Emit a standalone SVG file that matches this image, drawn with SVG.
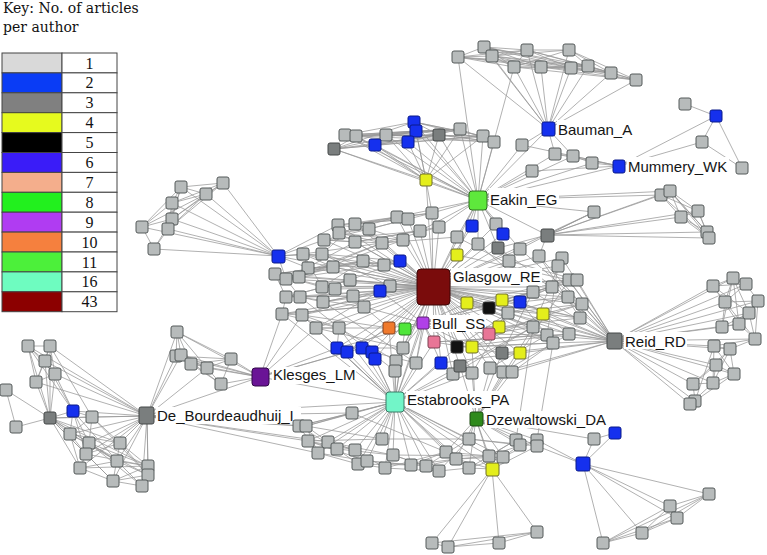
<svg xmlns="http://www.w3.org/2000/svg" width="767" height="555" viewBox="0 0 767 555">
<style>
.g{fill:#b7bbbb;stroke:#555a5a;stroke-width:1;rx:2px}
.bl{fill:#1530ee;stroke:#0b1a8a;stroke-width:1;rx:2px}
.dk{fill:#7a7e7e;stroke:#454848;stroke-width:1;rx:2px}
.yl{fill:#e4ee1c;stroke:#6e6e2a;stroke-width:1;rx:2px}
.bk{fill:#111;stroke:#333;stroke-width:1;rx:2px}
.pk{fill:#e87596;stroke:#7a4050;stroke-width:1;rx:2px}
.or{fill:#f07a2c;stroke:#804020;stroke-width:1;rx:2px}
.gn{fill:#4fe63a;stroke:#2a7a20;stroke-width:1;rx:2px}
.lb{font-family:"Liberation Sans",Arial,sans-serif;font-size:15px;fill:#151515}
.bg{fill:#fff}
.key{font-family:"DejaVu Serif","Liberation Serif",serif;font-size:14px;fill:#111}
.num{font-family:"Liberation Serif","DejaVu Serif",serif;font-size:16px;fill:#111;text-anchor:middle}
.cell{stroke:#444;stroke-width:1}
</style>
<g id="legend">
<text class="key" x="3" y="13">Key: No. of articles</text>
<text class="key" x="3" y="32">per author</text>
<rect class="cell" x="2" y="53" width="60" height="19.9" fill="#d9d9d9"/><rect class="cell" x="62" y="53" width="55" height="19.9" fill="#fff"/><text class="num" x="89.5" y="68.5">1</text>
<rect class="cell" x="2" y="72.9" width="60" height="19.9" fill="#0a3cf5"/><rect class="cell" x="62" y="72.9" width="55" height="19.9" fill="#fff"/><text class="num" x="89.5" y="88.4">2</text>
<rect class="cell" x="2" y="92.8" width="60" height="19.9" fill="#808080"/><rect class="cell" x="62" y="92.8" width="55" height="19.9" fill="#fff"/><text class="num" x="89.5" y="108.3">3</text>
<rect class="cell" x="2" y="112.7" width="60" height="19.9" fill="#e6fa1e"/><rect class="cell" x="62" y="112.7" width="55" height="19.9" fill="#fff"/><text class="num" x="89.5" y="128.2">4</text>
<rect class="cell" x="2" y="132.6" width="60" height="19.9" fill="#000"/><rect class="cell" x="62" y="132.6" width="55" height="19.9" fill="#fff"/><text class="num" x="89.5" y="148.1">5</text>
<rect class="cell" x="2" y="152.5" width="60" height="19.9" fill="#3a1cf8"/><rect class="cell" x="62" y="152.5" width="55" height="19.9" fill="#fff"/><text class="num" x="89.5" y="168">6</text>
<rect class="cell" x="2" y="172.4" width="60" height="19.9" fill="#f4ae8c"/><rect class="cell" x="62" y="172.4" width="55" height="19.9" fill="#fff"/><text class="num" x="89.5" y="187.9">7</text>
<rect class="cell" x="2" y="192.3" width="60" height="19.9" fill="#22f01e"/><rect class="cell" x="62" y="192.3" width="55" height="19.9" fill="#fff"/><text class="num" x="89.5" y="207.8">8</text>
<rect class="cell" x="2" y="212.2" width="60" height="19.9" fill="#b03cf2"/><rect class="cell" x="62" y="212.2" width="55" height="19.9" fill="#fff"/><text class="num" x="89.5" y="227.7">9</text>
<rect class="cell" x="2" y="232.1" width="60" height="19.9" fill="#f5803e"/><rect class="cell" x="62" y="232.1" width="55" height="19.9" fill="#fff"/><text class="num" x="89.5" y="247.6">10</text>
<rect class="cell" x="2" y="252" width="60" height="19.9" fill="#4cf03a"/><rect class="cell" x="62" y="252" width="55" height="19.9" fill="#fff"/><text class="num" x="89.5" y="267.5">11</text>
<rect class="cell" x="2" y="271.9" width="60" height="19.9" fill="#6efcc0"/><rect class="cell" x="62" y="271.9" width="55" height="19.9" fill="#fff"/><text class="num" x="89.5" y="287.4">16</text>
<rect class="cell" x="2" y="291.8" width="60" height="19.9" fill="#8c0000"/><rect class="cell" x="62" y="291.8" width="55" height="19.9" fill="#fff"/><text class="num" x="89.5" y="307.3">43</text>
</g>
<g id="connectors" fill="none" stroke="#979797" stroke-width="0.75">
<path d="M548 129L458 57M548 129L484 47M548 129L492 56M548 129L527 50M548 129L569 50M548 129L514 67M548 129L541 67M548 129L571 68M548 129L588 66M548 129L611 73M548 129L636 80M548 129L522 145M548 129L555 154M548 129L573 156M548 129L478 200"/>
<path d="M458 57L484 47L527 50L569 50L636 80L611 73L588 66L571 68L541 67L514 67L492 56L458 57L514 67L569 50L611 73L541 67L484 47L571 68L636 80L588 66L527 50L492 56L541 67L588 66L484 47L514 67L571 68L458 57L527 50L611 73L492 56L569 50L588 66L458 57L541 67L636 80L514 67L527 50L571 68L611 73L484 47L492 56L588 66"/>
<path d="M426 180L345 135M426 180L356 136M426 180L386 135M426 180L414 122M426 180L416 131M426 180L408 142M426 180L375 145M426 180L334 149M426 180L439 135M426 180L460 129M426 180L483 136M426 180L478 200M426 180L432 213M426 180L433 287"/>
<path d="M478 200L345 135M478 200L356 136M478 200L386 135M478 200L414 122M478 200L416 131M478 200L408 142M478 200L375 145M478 200L334 149M478 200L439 135M478 200L460 129M478 200L483 136M478 200L494 142M478 200L458 57M478 200L514 67"/>
<path d="M334 149L345 135L439 135L356 136L460 129L386 135L483 136L414 122L494 142L416 131L345 135L483 136L334 149L439 135L375 145L460 129L408 142L356 136L494 142L386 135L416 131L334 149L414 122L345 135L375 145L386 135L460 129L494 142L439 135L414 122L483 136L408 142L334 149L356 136L416 131L460 129L345 135"/>
<path d="M619 166L555 154M619 166L573 156M619 166L592 163M619 166L532 171M619 166L522 145M619 166L478 200M619 166L716 116M619 166L702 142M555 154L573 156L592 163M478 200L522 145M478 200L555 154M478 200L573 156M478 200L592 163M478 200L532 171M685 104L716 116L742 168L702 142L716 116"/>
<path d="M547 235L661 195M547 235L670 191M547 235L681 217M547 235L698 211M547 235L707 232M547 235L709 238M547 235L594 212M547 235L478 200M547 235L520 249M547 235L539 256M547 235L498 248M661 195L698 211L707 232L670 191L681 217L709 238L661 195L681 217L698 211L709 238L670 191L707 232L681 217M661 195L670 191L698 211M478 200L594 212M478 200L661 195M478 200L670 191M594 212L433 287M594 212L547 235"/>
<path d="M278 256L181 187M278 256L223 183M278 256L206 194M278 256L172 203M278 256L172 219M278 256L142 227M278 256L168 229M278 256L154 249M181 187L223 183L206 194L181 187L172 203L206 194L172 219L223 183L168 229L206 194L142 227L181 187L168 229L154 249L142 227L172 203L168 229L172 219L142 227M172 203L172 219L154 249M181 187L172 219M223 183L172 203M278 256L303 254M278 256L322 254M278 256L324 240M278 256L433 287M278 256L286 279M278 256L308 268M278 256L338 225"/>
<path d="M433 287L397 217M433 287L408 219M433 287L432 213M433 287L338 225M433 287L355 224M433 287L369 229M433 287L339 233M433 287L324 240M433 287L355 242M433 287L382 243M433 287L403 240M433 287L420 231M433 287L439 227M433 287L472 226M433 287L496 224M433 287L503 234M433 287L457 237M433 287L478 244M433 287L498 248M433 287L520 249M433 287L539 256M433 287L562 258M433 287L457 255M433 287L509 261M433 287L558 266M433 287L303 254M433 287L322 254M433 287L308 268M433 287L333 267M433 287L363 261M433 287L384 265M433 287L400 261M433 287L275 274M433 287L286 279M433 287L299 277M433 287L322 287M433 287L335 289M433 287L350 280M433 287L390 286M433 287L380 291M433 287L286 297M433 287L300 297M433 287L323 302M433 287L353 296M433 287L364 307M433 287L282 314M433 287L302 315M433 287L316 328M433 287L339 328M433 287L389 328M433 287L405 329M433 287L337 348M433 287L347 352M433 287L362 348M433 287L372 352M433 287L375 359M433 287L403 348M433 287L396 361M433 287L416 363M433 287L395 371"/>
<path d="M433 287L569 280M433 287L577 280M433 287L533 292M433 287L552 287M433 287L568 297M433 287L467 303M433 287L502 300M433 287L520 302M433 287L489 308M433 287L508 313M433 287L543 314M433 287L580 318M433 287L582 304M433 287L533 327M433 287L547 335M433 287L569 334M433 287L553 343M433 287L499 327M433 287L489 334M433 287L434 342M433 287L457 347M433 287L472 347M433 287L502 353M433 287L520 353M433 287L441 363M433 287L460 366M433 287L453 374M433 287L472 373M433 287L490 368M433 287L503 372M433 287L512 372M433 287L478 200M433 287L395 402M433 287L614 341"/>
<path d="M275 274L363 261L286 279L382 243L299 277L403 240L303 254L384 265L308 268L400 261L322 254L390 286L322 287L350 280L286 297L353 296L300 297L364 307L282 314L339 328L302 315L389 328L316 328L380 291L323 302L335 289L275 274L322 287L303 254L333 267L286 279L355 242L324 240L369 229L339 233L397 217L338 225L408 219L355 224L432 213L369 229L403 240L339 233L382 243L324 240L420 231L355 242L439 227L382 243L457 237M275 274L286 297L282 314L302 315L316 328L339 328L337 348M286 279L300 297L323 302L353 296L364 307L389 328M303 254L308 268L333 267L363 261L384 265L400 261M322 254L355 224L397 217L432 213M338 225L369 229L408 219M282 314L364 307M302 315L380 291M316 328L403 348M339 328L396 361M323 302L416 363M300 297L395 371M337 348L405 329M347 352L389 328M362 348L403 348M372 352L416 363M286 297L350 280L400 261M299 277L384 265M275 274L333 267M322 287L363 261"/>
<path d="M467 303L569 280L489 308L577 280L502 300L552 287L520 302L568 297L508 313L582 304L543 314L580 318L499 327L533 327L489 334L547 335L434 342L569 334L457 347L553 343L472 347L533 292L502 353L520 353L569 280M457 255L569 280M509 261L577 280M457 237L552 287M478 244L533 292M498 248L568 297M520 249L582 304M539 256L580 318M562 258L533 327M558 266L547 335M467 303L533 327L453 374M489 308L543 314L569 334L503 372M499 327L553 343L512 372M502 300L580 318M520 302L547 335L490 368M508 313L472 373M441 363L520 353M460 366L533 327M434 342L502 353M457 347L508 313M472 347L543 314M489 334L582 304"/>
<path d="M614 341L713 286M614 341L733 278M614 341L746 284M614 341L758 301M614 341L725 302M614 341L749 313M614 341L739 324M614 341L722 327M614 341L755 339M614 341L714 346M614 341L730 349M614 341L716 365M614 341L734 374M614 341L713 383M614 341L693 384M614 341L695 401M614 341L690 404M614 341L569 280M614 341L577 280M614 341L568 297M614 341L582 304M614 341L580 318M614 341L569 334M614 341L553 343M614 341L547 335M614 341L533 327M614 341L543 314M614 341L552 287M614 341L533 292M614 341L562 258M614 341L558 266M614 341L520 353M614 341L502 353M614 341L512 372M614 341L503 372M614 341L508 313M614 341L520 302M614 341L539 256"/>
<path d="M713 286L733 278L746 284L758 301L749 313L739 324L722 327L725 302L713 286L746 284L725 302L758 301L739 324L713 286L749 313L733 278L725 302L755 339L739 324L733 278L722 327L749 313L755 339L758 301M714 346L730 349L716 365L734 374L713 383L693 384L695 401L690 404L713 383L716 365L693 384L730 349L734 374L695 401L714 346L713 383L730 349L755 339L714 346L734 374"/>
<path d="M395 402L352 413M395 402L299 426M395 402L306 426M395 402L308 441M395 402L328 442M395 402L337 449M395 402L318 453M395 402L355 450M395 402L382 439M395 402L393 455M395 402L358 464M395 402L367 461M395 402L385 468M395 402L411 465M395 402L426 466M395 402L439 471M395 402L446 452M395 402L456 459M395 402L469 439M395 402L469 468M395 402L489 456M395 402L503 457M395 402L492 469M395 402L337 348M395 402L347 352M395 402L362 348M395 402L372 352M395 402L375 359M395 402L403 348M395 402L396 361M395 402L416 363M395 402L395 371M395 402L434 342M395 402L441 363M395 402L460 366M395 402L453 374M395 402L472 373M395 402L316 328M395 402L339 328M395 402L389 328M395 402L405 329M395 402L423 323M395 402L260 377M395 402L457 347M395 402L302 315M395 402L282 314"/>
<path d="M299 426L352 413L306 426L382 439L308 441L355 450L328 442L393 455L337 449L358 464L318 453L367 461L308 441L337 449L299 426L318 453L306 426L328 442L355 450L385 468L358 464L411 465L367 461L426 466L393 455L439 471L385 468L446 452L411 465L456 459L426 466L469 439L439 471L469 468L446 452L489 456L456 459L503 457L469 468L516 440L489 456L537 440L503 457L520 445L469 439L537 446L492 469L503 457M352 413L446 452M382 439L469 439M393 455L489 456"/>
<path d="M476 419L446 452M476 419L456 459M476 419L469 439M476 419L469 468M476 419L489 456M476 419L503 457M476 419L516 440M476 419L537 440M476 419L537 446M476 419L520 445M476 419L492 469M476 419L594 439M476 419L472 347M476 419L502 353M476 419L520 353M476 419L472 373M476 419L490 368M476 419L503 372M476 419L512 372M476 419L460 366M476 419L533 327M537 440L553 343M516 440L533 327"/>
<path d="M492 469L537 532M492 469L499 543M492 469L432 543M492 469L448 547M492 469L456 459M492 469L469 468M432 543L448 547L499 543L537 532L432 543M448 547L537 532M583 464L594 439M583 464L615 433M583 464L603 543M583 464L642 533M583 464L670 506M583 464L677 518M583 464L709 494M583 464L537 446M583 464L537 440M594 439L615 433M603 543L642 533L670 506L709 494L677 518L603 543L670 506M642 533L709 494M642 533L677 518M603 543L709 494"/>
<path d="M260 377L177 332M260 377L176 356M260 377L181 355M260 377L191 364M260 377L207 368M260 377L231 359M260 377L221 384M260 377L337 348M260 377L347 352M260 377L362 348M260 377L316 328M260 377L302 315M260 377L282 314M177 332L176 356L191 364L231 359L177 332L181 355L207 368L231 359L221 384L191 364L177 332L207 368M176 356L231 359M181 355L221 384L207 368M176 356L207 368"/>
<path d="M147 416L352 413M147 416L299 426M147 416L306 426M147 416L308 441M147 416L328 442M147 416L318 453M147 416L395 402M147 416L260 377M147 416L176 356M147 416L181 355M147 416L177 332M147 416L207 368"/>
<path d="M147 416L28 346M147 416L50 346M147 416L45 361M147 416L55 374M147 416L36 382M147 416L50 418M147 416L73 411M147 416L92 417M147 416L70 434M147 416L89 443M147 416L120 443M147 416L86 454M147 416L117 461M147 416L80 468M147 416L148 466M147 416L148 475M147 416L113 481M147 416L142 486"/>
<path d="M50 418L28 346M50 418L50 346M50 418L45 361M50 418L55 374M50 418L36 382M50 418L6 390M50 418L16 427M50 418L73 411M50 418L92 417M50 418L70 434M50 418L89 443M50 418L120 443M50 418L86 454M50 418L117 461M50 418L80 468M50 418L113 481M50 418L148 466M6 390L16 427M28 346L50 346L45 361L28 346L55 374L50 346L36 382L28 346M45 361L55 374L36 382L45 361M50 346L92 417M45 361L73 411M55 374L73 411M28 346L73 411"/>
<path d="M73 411L92 417L120 443L148 466L142 486L113 481L80 468L70 434L73 411L89 443L117 461L148 475L113 481L86 454L70 434L92 417L89 443L148 466L117 461L80 468L86 454L120 443L148 475L142 486L117 461L70 434L120 443L113 481L148 466L86 454L73 411L117 461M92 417L148 475M89 443L142 486M80 468L148 466M70 434L148 475"/>
<path d="M423 323L467 303M423 323L489 308M423 323L489 334M423 323L434 342M423 323L457 347M423 323L472 347M423 323L389 328M423 323L405 329M423 323L403 348M423 323L416 363M423 323L441 363M423 323L499 327M423 323L502 300M423 323L533 292M423 323L364 307M423 323L380 291"/>
<path d="M478 200L472 226M478 200L496 224M478 200L503 234M478 200L439 227M478 200L432 213M478 200L457 237M478 200L478 244M478 200L498 248M478 200L520 249M478 200L457 255M478 200L420 231M478 200L397 217"/>
</g>
<g id="glasgow_re"><rect x="417" y="269" width="33" height="36" rx="4" fill="#7a0c0c" stroke="#3a0505"/><rect class="bg" x="451" y="268" width="91" height="18"/><text class="lb" x="453" y="282">Glasgow_RE</text></g>
<g id="eakin_eg"><rect x="469" y="191" width="18" height="19" rx="3" fill="#5ee83c" stroke="#2e6e20"/><rect class="bg" x="489" y="188" width="70" height="18"/><text class="lb" x="490" y="205">Eakin_EG</text></g>
<g id="bauman_a"><rect class="bl" x="542" y="122" width="13" height="14"/><rect class="bg" x="557" y="120" width="77" height="17"/><text class="lb" x="558" y="135">Bauman_A</text></g>
<g id="mummery_wk"><rect class="bl" x="613" y="160" width="12" height="13"/><rect class="bg" x="627" y="157" width="102" height="17"/><text class="lb" x="628" y="172">Mummery_WK</text></g>
<g id="bull_ss"><rect x="417" y="317" width="12" height="12" rx="2" fill="#b040e8" stroke="#5a2070"/><rect class="bg" x="431" y="315" width="55" height="17"/><text class="lb" x="432" y="329">Bull_SS</text></g>
<g id="reid_rd"><rect class="dk" x="607" y="333" width="15" height="16"/><rect class="bg" x="624" y="332" width="63" height="17"/><text class="lb" x="625" y="347">Reid_RD</text></g>
<g id="klesges_lm"><rect x="252" y="368" width="17" height="18" rx="3" fill="#6a1496" stroke="#300848"/><rect class="bg" x="272" y="367" width="84" height="17"/><text class="lb" x="273" y="380">Klesges_LM</text></g>
<g id="estabrooks_pa"><rect x="386" y="392" width="18" height="20" rx="3" fill="#72f5c8" stroke="#3a7a66"/><rect class="bg" x="406" y="391" width="106" height="17"/><text class="lb" x="407" y="405">Estabrooks_PA</text></g>
<g id="dzewaltowski_da"><rect x="470" y="412" width="13" height="14" rx="2" fill="#2f8a1c" stroke="#1a4a10"/><rect class="bg" x="485" y="411" width="122" height="17"/><text class="lb" x="486" y="425">Dzewaltowski_DA</text></g>
<g id="de_bourdeaudhuij_i"><rect class="dk" x="139" y="407" width="15" height="17"/><rect class="bg" x="156" y="407" width="145" height="17"/><text class="lb" x="157" y="421">De_Bourdeaudhuij_I</text></g>
<g id="n1"><rect class="g" x="452" y="51" width="12" height="12"/></g>
<g id="n2"><rect class="g" x="478" y="41" width="12" height="12"/></g>
<g id="n3"><rect class="g" x="486" y="50" width="12" height="12"/></g>
<g id="n4"><rect class="g" x="521" y="44" width="12" height="12"/></g>
<g id="n5"><rect class="g" x="563" y="44" width="12" height="12"/></g>
<g id="n6"><rect class="g" x="508" y="61" width="12" height="12"/></g>
<g id="n7"><rect class="g" x="535" y="61" width="12" height="12"/></g>
<g id="n8"><rect class="g" x="565" y="62" width="12" height="12"/></g>
<g id="n9"><rect class="g" x="582" y="60" width="12" height="12"/></g>
<g id="n10"><rect class="g" x="605" y="67" width="12" height="12"/></g>
<g id="n11"><rect class="g" x="630" y="74" width="12" height="12"/></g>
<g id="n12"><rect class="g" x="339" y="129" width="12" height="12"/></g>
<g id="n13"><rect class="g" x="350" y="130" width="12" height="12"/></g>
<g id="n14"><rect class="g" x="380" y="129" width="12" height="12"/></g>
<g id="n15"><rect class="g" x="454" y="123" width="12" height="12"/></g>
<g id="n16"><rect class="g" x="477" y="130" width="12" height="12"/></g>
<g id="n17"><rect class="g" x="488" y="136" width="12" height="12"/></g>
<g id="n18"><rect class="bl" x="408" y="116" width="12" height="12"/></g>
<g id="n19"><rect class="bl" x="410" y="125" width="12" height="12"/></g>
<g id="n20"><rect class="bl" x="402" y="136" width="12" height="12"/></g>
<g id="n21"><rect class="bl" x="369" y="139" width="12" height="12"/></g>
<g id="n22"><rect class="dk" x="328" y="143" width="12" height="12"/></g>
<g id="n23"><rect class="dk" x="433" y="129" width="12" height="12"/></g>
<g id="n24"><rect class="yl" x="420" y="174" width="12" height="12"/></g>
<g id="n25"><rect class="g" x="516" y="139" width="12" height="12"/></g>
<g id="n26"><rect class="g" x="549" y="148" width="12" height="12"/></g>
<g id="n27"><rect class="g" x="567" y="150" width="12" height="12"/></g>
<g id="n28"><rect class="g" x="586" y="157" width="12" height="12"/></g>
<g id="n29"><rect class="g" x="526" y="165" width="12" height="12"/></g>
<g id="n30"><rect class="g" x="679" y="98" width="12" height="12"/></g>
<g id="n31"><rect class="bl" x="710" y="110" width="12" height="12"/></g>
<g id="n32"><rect class="g" x="696" y="136" width="12" height="12"/></g>
<g id="n33"><rect class="g" x="736" y="162" width="12" height="12"/></g>
<g id="n34"><rect class="g" x="655" y="189" width="12" height="12"/></g>
<g id="n35"><rect class="g" x="664" y="185" width="12" height="12"/></g>
<g id="n36"><rect class="g" x="588" y="206" width="12" height="12"/></g>
<g id="n37"><rect class="g" x="675" y="211" width="12" height="12"/></g>
<g id="n38"><rect class="g" x="692" y="205" width="12" height="12"/></g>
<g id="n39"><rect class="g" x="701" y="226" width="12" height="12"/></g>
<g id="n40"><rect class="g" x="703" y="232" width="12" height="12"/></g>
<g id="n41"><rect class="dk" x="541" y="229" width="13" height="13"/></g>
<g id="n42"><rect class="g" x="175" y="181" width="12" height="12"/></g>
<g id="n43"><rect class="g" x="217" y="177" width="12" height="12"/></g>
<g id="n44"><rect class="g" x="200" y="188" width="12" height="12"/></g>
<g id="n45"><rect class="g" x="166" y="197" width="12" height="12"/></g>
<g id="n46"><rect class="g" x="166" y="213" width="12" height="12"/></g>
<g id="n47"><rect class="g" x="136" y="221" width="12" height="12"/></g>
<g id="n48"><rect class="g" x="162" y="223" width="12" height="12"/></g>
<g id="n49"><rect class="g" x="148" y="243" width="12" height="12"/></g>
<g id="n50"><rect class="bl" x="272" y="250" width="13" height="13"/></g>
<g id="n51"><rect class="g" x="391" y="211" width="12" height="12"/></g>
<g id="n52"><rect class="g" x="402" y="213" width="12" height="12"/></g>
<g id="n53"><rect class="g" x="426" y="207" width="12" height="12"/></g>
<g id="n54"><rect class="g" x="332" y="219" width="12" height="12"/></g>
<g id="n55"><rect class="g" x="349" y="218" width="12" height="12"/></g>
<g id="n56"><rect class="g" x="363" y="223" width="12" height="12"/></g>
<g id="n57"><rect class="g" x="333" y="227" width="12" height="12"/></g>
<g id="n58"><rect class="g" x="318" y="234" width="12" height="12"/></g>
<g id="n59"><rect class="g" x="349" y="236" width="12" height="12"/></g>
<g id="n60"><rect class="g" x="376" y="237" width="12" height="12"/></g>
<g id="n61"><rect class="g" x="397" y="234" width="12" height="12"/></g>
<g id="n62"><rect class="g" x="414" y="225" width="12" height="12"/></g>
<g id="n63"><rect class="g" x="433" y="221" width="12" height="12"/></g>
<g id="n64"><rect class="g" x="490" y="218" width="12" height="12"/></g>
<g id="n65"><rect class="g" x="451" y="231" width="12" height="12"/></g>
<g id="n66"><rect class="g" x="472" y="238" width="12" height="12"/></g>
<g id="n67"><rect class="g" x="514" y="243" width="12" height="12"/></g>
<g id="n68"><rect class="g" x="533" y="250" width="12" height="12"/></g>
<g id="n69"><rect class="g" x="556" y="252" width="12" height="12"/></g>
<g id="n70"><rect class="g" x="503" y="255" width="12" height="12"/></g>
<g id="n71"><rect class="g" x="552" y="260" width="12" height="12"/></g>
<g id="n72"><rect class="bl" x="466" y="220" width="12" height="12"/></g>
<g id="n73"><rect class="bl" x="497" y="228" width="12" height="12"/></g>
<g id="n74"><rect class="dk" x="492" y="242" width="12" height="12"/></g>
<g id="n75"><rect class="yl" x="451" y="249" width="12" height="12"/></g>
<g id="n76"><rect class="g" x="297" y="248" width="12" height="12"/></g>
<g id="n77"><rect class="g" x="316" y="248" width="12" height="12"/></g>
<g id="n78"><rect class="g" x="302" y="262" width="12" height="12"/></g>
<g id="n79"><rect class="g" x="327" y="261" width="12" height="12"/></g>
<g id="n80"><rect class="g" x="357" y="255" width="12" height="12"/></g>
<g id="n81"><rect class="g" x="378" y="259" width="12" height="12"/></g>
<g id="n82"><rect class="g" x="269" y="268" width="12" height="12"/></g>
<g id="n83"><rect class="g" x="280" y="273" width="12" height="12"/></g>
<g id="n84"><rect class="g" x="293" y="271" width="12" height="12"/></g>
<g id="n85"><rect class="g" x="316" y="281" width="12" height="12"/></g>
<g id="n86"><rect class="g" x="329" y="283" width="12" height="12"/></g>
<g id="n87"><rect class="g" x="344" y="274" width="12" height="12"/></g>
<g id="n88"><rect class="g" x="384" y="280" width="12" height="12"/></g>
<g id="n89"><rect class="g" x="280" y="291" width="12" height="12"/></g>
<g id="n90"><rect class="g" x="294" y="291" width="12" height="12"/></g>
<g id="n91"><rect class="g" x="317" y="296" width="12" height="12"/></g>
<g id="n92"><rect class="g" x="347" y="290" width="12" height="12"/></g>
<g id="n93"><rect class="g" x="358" y="301" width="12" height="12"/></g>
<g id="n94"><rect class="g" x="276" y="308" width="12" height="12"/></g>
<g id="n95"><rect class="g" x="296" y="309" width="12" height="12"/></g>
<g id="n96"><rect class="g" x="310" y="322" width="12" height="12"/></g>
<g id="n97"><rect class="g" x="333" y="322" width="12" height="12"/></g>
<g id="n98"><rect class="g" x="397" y="342" width="12" height="12"/></g>
<g id="n99"><rect class="g" x="390" y="355" width="12" height="12"/></g>
<g id="n100"><rect class="g" x="410" y="357" width="12" height="12"/></g>
<g id="n101"><rect class="g" x="389" y="365" width="12" height="12"/></g>
<g id="n102"><rect class="bl" x="394" y="255" width="12" height="12"/></g>
<g id="n103"><rect class="bl" x="374" y="285" width="12" height="12"/></g>
<g id="n104"><rect class="bl" x="331" y="342" width="12" height="12"/></g>
<g id="n105"><rect class="bl" x="341" y="346" width="12" height="12"/></g>
<g id="n106"><rect class="bl" x="356" y="342" width="12" height="12"/></g>
<g id="n107"><rect class="bl" x="366" y="346" width="12" height="12"/></g>
<g id="n108"><rect class="bl" x="369" y="353" width="12" height="12"/></g>
<g id="n109"><rect class="or" x="383" y="322" width="12" height="12"/></g>
<g id="n110"><rect class="gn" x="399" y="323" width="12" height="12"/></g>
<g id="n111"><rect class="g" x="563" y="274" width="12" height="12"/></g>
<g id="n112"><rect class="g" x="571" y="274" width="12" height="12"/></g>
<g id="n113"><rect class="g" x="527" y="286" width="12" height="12"/></g>
<g id="n114"><rect class="g" x="546" y="281" width="12" height="12"/></g>
<g id="n115"><rect class="g" x="562" y="291" width="12" height="12"/></g>
<g id="n116"><rect class="g" x="502" y="307" width="12" height="12"/></g>
<g id="n117"><rect class="g" x="574" y="312" width="12" height="12"/></g>
<g id="n118"><rect class="g" x="576" y="298" width="12" height="12"/></g>
<g id="n119"><rect class="g" x="527" y="321" width="12" height="12"/></g>
<g id="n120"><rect class="g" x="541" y="329" width="12" height="12"/></g>
<g id="n121"><rect class="g" x="563" y="328" width="12" height="12"/></g>
<g id="n122"><rect class="g" x="547" y="337" width="12" height="12"/></g>
<g id="n123"><rect class="g" x="447" y="368" width="12" height="12"/></g>
<g id="n124"><rect class="g" x="466" y="367" width="12" height="12"/></g>
<g id="n125"><rect class="g" x="484" y="362" width="12" height="12"/></g>
<g id="n126"><rect class="g" x="497" y="366" width="12" height="12"/></g>
<g id="n127"><rect class="g" x="506" y="366" width="12" height="12"/></g>
<g id="n128"><rect class="yl" x="461" y="297" width="12" height="12"/></g>
<g id="n129"><rect class="yl" x="496" y="294" width="12" height="12"/></g>
<g id="n130"><rect class="yl" x="537" y="308" width="12" height="12"/></g>
<g id="n131"><rect class="yl" x="493" y="321" width="12" height="12"/></g>
<g id="n132"><rect class="yl" x="466" y="341" width="12" height="12"/></g>
<g id="n133"><rect class="yl" x="514" y="347" width="12" height="12"/></g>
<g id="n134"><rect class="bl" x="514" y="296" width="12" height="12"/></g>
<g id="n135"><rect class="bl" x="435" y="357" width="12" height="12"/></g>
<g id="n136"><rect class="bk" x="483" y="302" width="12" height="12"/></g>
<g id="n137"><rect class="bk" x="451" y="341" width="12" height="12"/></g>
<g id="n138"><rect class="pk" x="483" y="328" width="12" height="12"/></g>
<g id="n139"><rect class="pk" x="428" y="336" width="12" height="12"/></g>
<g id="n140"><rect class="dk" x="496" y="347" width="12" height="12"/></g>
<g id="n141"><rect class="dk" x="454" y="360" width="12" height="12"/></g>
<g id="n142"><rect class="g" x="707" y="280" width="12" height="12"/></g>
<g id="n143"><rect class="g" x="727" y="272" width="12" height="12"/></g>
<g id="n144"><rect class="g" x="740" y="278" width="12" height="12"/></g>
<g id="n145"><rect class="g" x="752" y="295" width="12" height="12"/></g>
<g id="n146"><rect class="g" x="719" y="296" width="12" height="12"/></g>
<g id="n147"><rect class="g" x="743" y="307" width="12" height="12"/></g>
<g id="n148"><rect class="g" x="733" y="318" width="12" height="12"/></g>
<g id="n149"><rect class="g" x="716" y="321" width="12" height="12"/></g>
<g id="n150"><rect class="g" x="749" y="333" width="12" height="12"/></g>
<g id="n151"><rect class="g" x="708" y="340" width="12" height="12"/></g>
<g id="n152"><rect class="g" x="724" y="343" width="12" height="12"/></g>
<g id="n153"><rect class="g" x="710" y="359" width="12" height="12"/></g>
<g id="n154"><rect class="g" x="728" y="368" width="12" height="12"/></g>
<g id="n155"><rect class="g" x="707" y="377" width="12" height="12"/></g>
<g id="n156"><rect class="g" x="687" y="378" width="12" height="12"/></g>
<g id="n157"><rect class="g" x="689" y="395" width="12" height="12"/></g>
<g id="n158"><rect class="g" x="684" y="398" width="12" height="12"/></g>
<g id="n159"><rect class="g" x="346" y="407" width="12" height="12"/></g>
<g id="n160"><rect class="g" x="293" y="420" width="12" height="12"/></g>
<g id="n161"><rect class="g" x="300" y="420" width="12" height="12"/></g>
<g id="n162"><rect class="g" x="302" y="435" width="12" height="12"/></g>
<g id="n163"><rect class="g" x="322" y="436" width="12" height="12"/></g>
<g id="n164"><rect class="g" x="331" y="443" width="12" height="12"/></g>
<g id="n165"><rect class="g" x="312" y="447" width="12" height="12"/></g>
<g id="n166"><rect class="g" x="349" y="444" width="12" height="12"/></g>
<g id="n167"><rect class="g" x="376" y="433" width="12" height="12"/></g>
<g id="n168"><rect class="g" x="387" y="449" width="12" height="12"/></g>
<g id="n169"><rect class="g" x="352" y="458" width="12" height="12"/></g>
<g id="n170"><rect class="g" x="361" y="455" width="12" height="12"/></g>
<g id="n171"><rect class="g" x="379" y="462" width="12" height="12"/></g>
<g id="n172"><rect class="g" x="405" y="459" width="12" height="12"/></g>
<g id="n173"><rect class="g" x="420" y="460" width="12" height="12"/></g>
<g id="n174"><rect class="g" x="433" y="465" width="12" height="12"/></g>
<g id="n175"><rect class="g" x="440" y="446" width="12" height="12"/></g>
<g id="n176"><rect class="g" x="450" y="453" width="12" height="12"/></g>
<g id="n177"><rect class="g" x="463" y="433" width="12" height="12"/></g>
<g id="n178"><rect class="g" x="463" y="462" width="12" height="12"/></g>
<g id="n179"><rect class="g" x="483" y="450" width="12" height="12"/></g>
<g id="n180"><rect class="g" x="497" y="451" width="12" height="12"/></g>
<g id="n181"><rect class="g" x="510" y="434" width="12" height="12"/></g>
<g id="n182"><rect class="g" x="531" y="434" width="12" height="12"/></g>
<g id="n183"><rect class="g" x="531" y="440" width="12" height="12"/></g>
<g id="n184"><rect class="g" x="514" y="439" width="12" height="12"/></g>
<g id="n185"><rect class="yl" x="486" y="463" width="13" height="13"/></g>
<g id="n186"><rect class="g" x="588" y="433" width="12" height="12"/></g>
<g id="n187"><rect class="bl" x="609" y="427" width="12" height="12"/></g>
<g id="n188"><rect class="bl" x="576" y="457" width="14" height="14"/></g>
<g id="n189"><rect class="g" x="531" y="526" width="12" height="12"/></g>
<g id="n190"><rect class="g" x="493" y="537" width="12" height="12"/></g>
<g id="n191"><rect class="g" x="426" y="537" width="12" height="12"/></g>
<g id="n192"><rect class="g" x="442" y="541" width="12" height="12"/></g>
<g id="n193"><rect class="g" x="597" y="537" width="12" height="12"/></g>
<g id="n194"><rect class="g" x="636" y="527" width="12" height="12"/></g>
<g id="n195"><rect class="g" x="664" y="500" width="12" height="12"/></g>
<g id="n196"><rect class="g" x="671" y="512" width="12" height="12"/></g>
<g id="n197"><rect class="g" x="703" y="488" width="12" height="12"/></g>
<g id="n198"><rect class="g" x="22" y="340" width="12" height="12"/></g>
<g id="n199"><rect class="g" x="44" y="340" width="12" height="12"/></g>
<g id="n200"><rect class="g" x="39" y="355" width="12" height="12"/></g>
<g id="n201"><rect class="g" x="49" y="368" width="12" height="12"/></g>
<g id="n202"><rect class="g" x="30" y="376" width="12" height="12"/></g>
<g id="n203"><rect class="g" x="0" y="384" width="12" height="12"/></g>
<g id="n204"><rect class="g" x="10" y="421" width="12" height="12"/></g>
<g id="n205"><rect class="dk" x="44" y="412" width="12" height="12"/></g>
<g id="n206"><rect class="bl" x="67" y="405" width="12" height="12"/></g>
<g id="n207"><rect class="g" x="86" y="411" width="12" height="12"/></g>
<g id="n208"><rect class="g" x="64" y="428" width="12" height="12"/></g>
<g id="n209"><rect class="g" x="83" y="437" width="12" height="12"/></g>
<g id="n210"><rect class="g" x="114" y="437" width="12" height="12"/></g>
<g id="n211"><rect class="g" x="80" y="448" width="12" height="12"/></g>
<g id="n212"><rect class="g" x="111" y="455" width="12" height="12"/></g>
<g id="n213"><rect class="g" x="74" y="462" width="12" height="12"/></g>
<g id="n214"><rect class="g" x="142" y="460" width="12" height="12"/></g>
<g id="n215"><rect class="g" x="142" y="469" width="12" height="12"/></g>
<g id="n216"><rect class="g" x="107" y="475" width="12" height="12"/></g>
<g id="n217"><rect class="g" x="136" y="480" width="12" height="12"/></g>
<g id="n218"><rect class="g" x="171" y="326" width="12" height="12"/></g>
<g id="n219"><rect class="g" x="170" y="350" width="12" height="12"/></g>
<g id="n220"><rect class="g" x="175" y="349" width="12" height="12"/></g>
<g id="n221"><rect class="g" x="185" y="358" width="12" height="12"/></g>
<g id="n222"><rect class="g" x="201" y="362" width="12" height="12"/></g>
<g id="n223"><rect class="g" x="225" y="353" width="12" height="12"/></g>
<g id="n224"><rect class="g" x="215" y="378" width="12" height="12"/></g>
</svg>
